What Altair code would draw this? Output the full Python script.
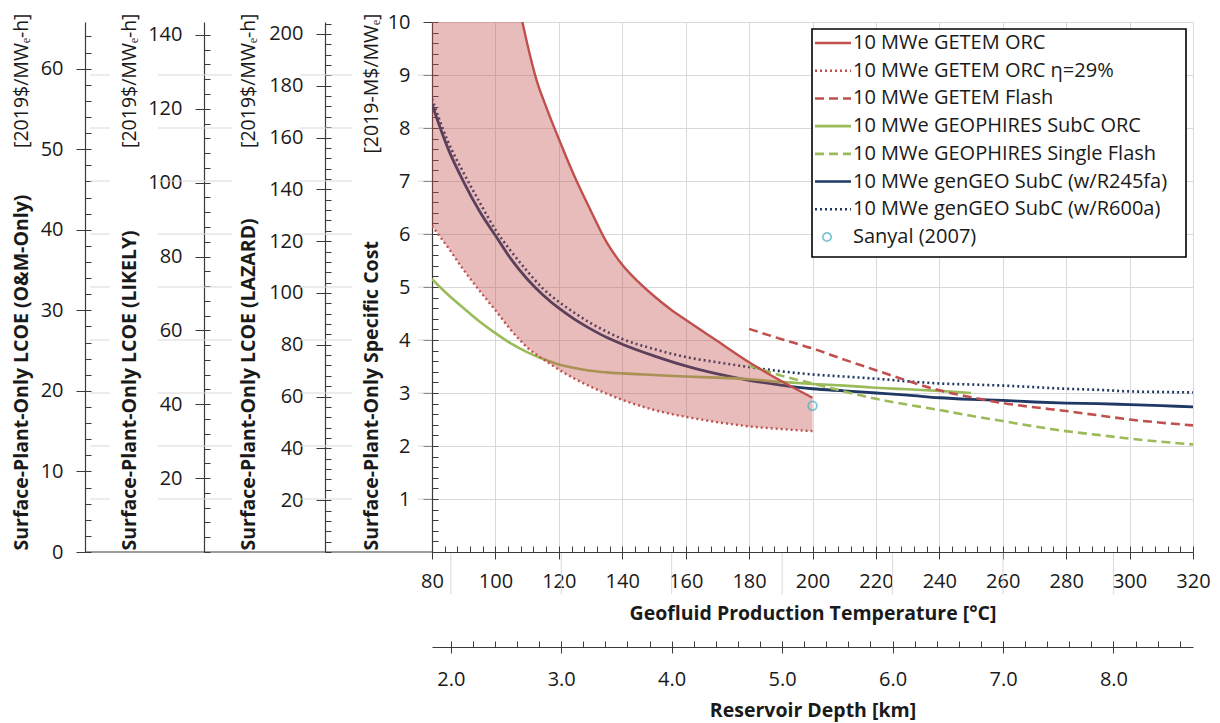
import altair as alt
import pandas as pd

# ------------------------------------------------------------------ data
# GETEM ORC band (upper = 10 MWe GETEM ORC, lower = GETEM ORC eta=29%)
band_T = [80, 85, 90, 95, 100, 105, 108.5, 110, 113, 116, 119, 122, 125, 130,
          135, 140, 145, 150, 155, 160, 170, 180, 190, 200]
getem_orc = [25, 20.5, 17, 14.5, 12.6, 11.0, 10.0, 9.6, 8.9, 8.4, 7.94, 7.5,
             7.08, 6.45, 5.85, 5.42, 5.1, 4.83, 4.59, 4.38, 3.98, 3.58, 3.23, 2.91]
getem_orc_eta29 = [6.15, 5.75, 5.32, 4.93, 4.56, 4.18, 3.95, 3.86, 3.72, 3.6,
                   3.48, 3.37, 3.27, 3.12, 2.99, 2.87, 2.77, 2.68, 2.61, 2.55,
                   2.45, 2.37, 2.32, 2.28]

flash_T = [180, 190, 200, 210, 220, 230, 240, 250, 260, 270, 280, 290, 300, 310, 320]
getem_flash = [4.21, 4.02, 3.84, 3.63, 3.43, 3.23, 3.05, 2.92, 2.81, 2.73, 2.66,
               2.58, 2.5, 2.44, 2.39]
geophires_flash = [3.52, 3.33, 3.18, 3.03, 2.89, 2.78, 2.68, 2.57, 2.47, 2.37,
                   2.28, 2.21, 2.14, 2.08, 2.03]

geophires_T = [80, 85, 90, 95, 100, 105, 110, 115, 120, 125, 130, 135, 140, 150,
               160, 170, 180, 190, 200, 210, 220, 230, 240, 250]
geophires_orc = [5.15, 4.86, 4.6, 4.35, 4.13, 3.93, 3.77, 3.64, 3.54, 3.47, 3.42,
                 3.39, 3.37, 3.34, 3.31, 3.29, 3.26, 3.21, 3.17, 3.14, 3.1, 3.07,
                 3.04, 3.0]

gengeo_T = [80, 85, 90, 95, 100, 105, 110, 115, 120, 125, 130, 135, 140, 150, 160,
            170, 180, 190, 200, 210, 220, 230, 240, 250, 260, 270, 280, 290, 300,
            310, 320]
gengeo_r245fa = [8.45, 7.62, 6.98, 6.43, 5.97, 5.52, 5.15, 4.85, 4.6, 4.39, 4.21,
                 4.05, 3.92, 3.7, 3.51, 3.36, 3.24, 3.15, 3.08, 3.04, 3.0, 2.96,
                 2.91, 2.88, 2.86, 2.83, 2.81, 2.8, 2.78, 2.76, 2.74]
gengeo_r600a = [8.55, 7.75, 7.15, 6.6, 6.08, 5.67, 5.3, 4.97, 4.72, 4.51, 4.32,
                4.16, 4.02, 3.83, 3.68, 3.58, 3.49, 3.41, 3.35, 3.31, 3.27, 3.22,
                3.18, 3.16, 3.14, 3.11, 3.08, 3.06, 3.03, 3.02, 3.01]

sanyal_T = [200]
sanyal_cost = [2.76]

series_names = [
    "10 MWe GETEM ORC",
    "10 MWe GETEM ORC η=29%",
    "10 MWe GETEM Flash",
    "10 MWe GEOPHIRES SubC ORC",
    "10 MWe GEOPHIRES Single Flash",
    "10 MWe genGEO SubC (w/R245fa)",
    "10 MWe genGEO SubC (w/R600a)",
    "Sanyal (2007)",
]

# axes (tick values)
temp_major = [80, 100, 120, 140, 160, 180, 200, 220, 240, 260, 280, 300, 320]
depth_major = [2.0, 3.0, 4.0, 5.0, 6.0, 7.0, 8.0]
cost_major = [1, 2, 3, 4, 5, 6, 7, 8, 9, 10]
lazard_major = [20, 40, 60, 80, 100, 120, 140, 160, 180, 200]
likely_major = [20, 40, 60, 80, 100, 120, 140]
om_major = [0, 10, 20, 30, 40, 50, 60]

# ------------------------------------------------------------------ style
W, H = 761, 530
FONT = "Open Sans"
TXT = "#1a1a1a"
AXC = "#3a3a3a"
GRID = "#d9d9d9"
RED = "#C0504D"
GREEN = "#9BBB59"
NAVY = "#1F3864"
TEAL = "#4BACC6"
DOT = [2, 3]
DASH = [9, 5]
LBL = 20      # tick label size
TTL = 19.5    # title size

colors = [RED, RED, RED, GREEN, GREEN, NAVY, NAVY, TEAL]
dashes = [[1, 0], DOT, DASH, [1, 0], DASH, [1, 0], DOT, [1, 0]]

tscale = alt.Scale(domain=[80, 320], nice=False, zero=False)
yscale = alt.Scale(domain=[0, 10], nice=False, zero=False)
dscale = alt.Scale(domain=[1.83, 8.72], nice=False, zero=False)


def frange(start, stop, step):
    out, i = [], 0
    while start + i * step <= stop + 1e-9:
        out.append(round(start + i * step, 4))
        i += 1
    return out


def ghost(values, channel, scale, axis):
    df = pd.DataFrame({"v": values})
    enc = {channel: alt.X("v:Q", scale=scale, axis=axis) if channel == "x"
           else alt.Y("v:Q", scale=scale, axis=axis)}
    return alt.Chart(df).mark_point(opacity=0, size=1).encode(**enc)


layers = []

# ---------------- x axes: temperature
layers.append(ghost(temp_major, "x", tscale, alt.Axis(
    orient="bottom", values=temp_major, format="d", grid=True, gridColor=GRID,
    gridWidth=1, tickSize=7, tickColor=AXC, domainColor=AXC, domainWidth=1.2,
    labelFontSize=LBL, labelPadding=12, labelColor=TXT, labelFlush=False,
    title="Geofluid Production Temperature [°C]", titleFontSize=TTL,
    titleFontWeight="bold", titlePadding=13, titleColor=TXT)))
layers.append(ghost(frange(80, 320, 4), "x", tscale, alt.Axis(
    orient="bottom", offset=-6, values=frange(80, 320, 4), tickSize=6,
    tickColor=AXC, labels=False, domain=False, grid=False, title=None)))

# ---------------- x axes: depth
layers.append(ghost(depth_major, "x", dscale, alt.Axis(
    orient="bottom", offset=95, values=depth_major, format=".1f", grid=False,
    tickSize=6, tickColor=AXC, domainColor=AXC, domainWidth=1.2,
    labelFontSize=LBL, labelPadding=16, labelColor=TXT, labelFlush=False,
    title="Reservoir Depth [km]", titleFontSize=TTL, titleFontWeight="bold",
    titlePadding=12, titleColor=TXT)))
layers.append(ghost(frange(2.0, 8.6, 0.2), "x", dscale, alt.Axis(
    orient="bottom", offset=89, values=frange(2.0, 8.6, 0.2), tickSize=6,
    tickColor=AXC, labels=False, domain=False, grid=False, title=None)))

# ---------------- y axes (primary + three converted scales)
yaxes = [
    # offset, max, majors, minor step, bold title, unit title, title x rel. axis
    (0, 10, cost_major, 0.2, "Surface-Plant-Only Specific Cost", "[2019-M$/MWₑ]", -61),
    (107, 204.6, lazard_major, 4, "Surface-Plant-Only LCOE (LAZARD)", "[2019$/MWₑ-h]", -77),
    (228, 143.5, likely_major, 4, "Surface-Plant-Only LCOE (LIKELY)", "[2019$/MWₑ-h]", -75),
    (347, 65.8, om_major, 2, "Surface-Plant-Only LCOE (O&M-Only)", "[2019$/MWₑ-h]", -64),
]
for off, vmax, majors, step, t_bold, t_unit, tx in yaxes:
    sc = alt.Scale(domain=[0, vmax], nice=False, zero=False)
    layers.append(ghost(majors, "y", sc, alt.Axis(
        orient="left", offset=off, values=majors, format="d",
        grid=(off == 0), gridColor=GRID, gridWidth=1,
        tickSize=9, tickColor=AXC, domainColor=AXC, domainWidth=1.2,
        labelFontSize=LBL, labelPadding=13, labelColor=TXT, labelFlush=False,
        title=t_bold, titleFontSize=TTL, titleFontWeight="bold", titleColor=TXT,
        titleAngle=270, titleAlign="left", titleBaseline="middle",
        titleX=tx, titleY=H - 2)))
    minors = frange(0, vmax, step)
    layers.append(ghost(minors, "y", sc, alt.Axis(
        orient="left", offset=off - 6, values=minors, tickSize=6, tickColor=AXC,
        labels=False, domain=False, grid=False,
        title=t_unit, titleFontSize=TTL, titleFontWeight="normal", titleColor=TXT,
        titleAngle=270, titleAlign="right", titleBaseline="middle",
        titleX=tx - 6, titleY=-9)))

# ---------------- decorative grid extensions on the left, base line, depth grid
one = pd.DataFrame({"a": [0]})
lvl = pd.DataFrame({"v": cost_major[:-1]})
for a, b in [(-342, -322), (-274, -200), (-132, -80), (-14, 0)]:
    layers.append(alt.Chart(lvl).mark_rule(color=GRID, strokeWidth=1).encode(
        y=alt.Y("v:Q", scale=yscale, axis=None), x=alt.value(a), x2=alt.value(b)))
layers.append(alt.Chart(one).mark_rule(color=AXC, strokeWidth=1.2).encode(
    y=alt.value(H), x=alt.value(-347), x2=alt.value(0)))
layers.append(alt.Chart(pd.DataFrame({"v": depth_major})).mark_rule(
    color=GRID, strokeWidth=1).encode(
    x=alt.X("v:Q", scale=dscale, axis=None), y=alt.value(H + 1), y2=alt.value(H + 42)))

# ---------------- data
def sdf(T, v):
    return pd.DataFrame({"T": T, "v": v})


def line(df, color, dash=None, width=2.6, field="v"):
    kw = dict(color=color, strokeWidth=width, clip=True, interpolate="monotone")
    if dash:
        kw["strokeDash"] = dash
    return alt.Chart(df).mark_line(**kw).encode(
        x=alt.X("T:Q", scale=tscale, axis=None),
        y=alt.Y(f"{field}:Q", scale=yscale, axis=None))


band = pd.DataFrame({"T": band_T, "hi": getem_orc, "lo": getem_orc_eta29})

layers.append(line(sdf(gengeo_T, gengeo_r245fa), NAVY, width=2.8))
layers.append(line(sdf(gengeo_T, gengeo_r600a), NAVY, DOT, width=2.6))
layers.append(line(sdf(geophires_T, geophires_orc), GREEN, width=2.6))
layers.append(alt.Chart(band).mark_area(
    color=RED, opacity=0.38, clip=True, interpolate="monotone").encode(
    x=alt.X("T:Q", scale=tscale, axis=None),
    y=alt.Y("hi:Q", scale=yscale, axis=None), y2="lo:Q"))
layers.append(line(sdf(flash_T, geophires_flash), GREEN, DASH, width=2.6))
layers.append(line(sdf(flash_T, getem_flash), RED, DASH, width=2.6))
layers.append(line(band, RED, width=2.4, field="hi"))
layers.append(line(band, RED, DOT, width=2.4, field="lo"))
layers.append(alt.Chart(sdf(sanyal_T, sanyal_cost)).mark_point(
    shape="circle", filled=False, color=TEAL, size=75, strokeWidth=1.8).encode(
    x=alt.X("T:Q", scale=tscale, axis=None),
    y=alt.Y("v:Q", scale=yscale, axis=None)))

# ---------------- legend (drawn with its own point scale)
leg = pd.DataFrame({"series": series_names})
ly = alt.Scale(type="point", domain=series_names, range=[21, 215], padding=0)
layers.append(alt.Chart(one).mark_rect(
    fill="white", stroke="black", strokeWidth=1.6).encode(
    x=alt.value(380), x2=alt.value(754), y=alt.value(7), y2=alt.value(235)))
for name, c, d in zip(series_names[:-1], colors[:-1], dashes[:-1]):
    kw = dict(color=c, strokeWidth=2.6)
    if d != [1, 0]:
        kw["strokeDash"] = d
    layers.append(alt.Chart(leg).transform_filter(alt.datum.series == name)
                  .mark_rule(**kw).encode(
        y=alt.Y("series:N", scale=ly, axis=None),
        x=alt.value(383), x2=alt.value(419)))
layers.append(alt.Chart(leg).transform_filter(alt.datum.series == series_names[-1])
              .mark_point(shape="circle", filled=False, color=TEAL, size=70,
                          strokeWidth=1.8).encode(
    y=alt.Y("series:N", scale=ly, axis=None), x=alt.value(395)))
layers.append(alt.Chart(leg).mark_text(
    align="left", baseline="middle", fontSize=20, font=FONT, color=TXT).encode(
    y=alt.Y("series:N", scale=ly, axis=None), x=alt.value(421), text="series:N"))

chart = alt.layer(*layers).resolve_scale(
    x="independent", y="independent"
).properties(
    width=W, height=H,
    autosize=alt.AutoSizeParams(type="none"),
    padding={"left": 424, "top": 14, "right": 19, "bottom": 176},
    background="white",
).configure_view(stroke=None).configure_axis(
    labelFont=FONT, titleFont=FONT
)

chart.save("out.html", embed_options={"renderer": "svg", "actions": False})
